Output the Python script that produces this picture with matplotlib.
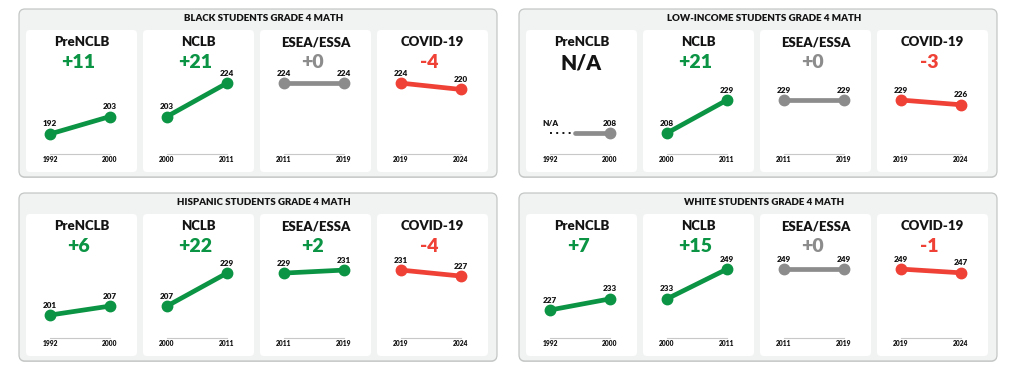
import matplotlib
matplotlib.use('Agg')
import matplotlib.pyplot as plt
from matplotlib.patches import FancyBboxPatch

plt.rcParams['font.family'] = ['Lato', 'DejaVu Sans']
plt.rcParams['font.weight'] = 'bold'

# data
group_titles = ['BLACK STUDENTS GRADE 4 MATH', 'LOW-INCOME STUDENTS GRADE 4 MATH',
                'HISPANIC STUDENTS GRADE 4 MATH', 'WHITE STUDENTS GRADE 4 MATH']
periods = ['PreNCLB', 'NCLB', 'ESEA/ESSA', 'COVID-19']
years = [1992, 2000, 2011, 2019, 2024]
black = [192, 203, 224, 224, 220]
low_income = [None, 208, 229, 229, 226]
hispanic = [201, 207, 229, 231, 227]
white = [227, 233, 249, 249, 247]
scores = [black, low_income, hispanic, white]

# printed gains (from unrounded scores, so they can differ from the rounded ones)
black_change = [11, 21, 0, -4]
low_income_change = [None, 21, 0, -3]
hispanic_change = [6, 22, 2, -4]
white_change = [7, 15, 0, -1]
changes = [black_change, low_income_change, hispanic_change, white_change]

# per group vertical range of the small charts
ylims = [(168.1, 257.4), (183.2, 273.6), (173.7, 268.4), (202.3, 278.6)]

green = '#0b9444'
red = '#ef4136'
gray = '#8c8c8c'
ink = '#141414'

W, H = 1024, 370
fig = plt.figure(figsize=(W / 100, H / 100), dpi=100)
fig.patch.set_facecolor('white')

bg = fig.add_axes([0, 0, 1, 1])
bg.set_xlim(0, W)
bg.set_ylim(H, 0)
bg.axis('off')

group_x = [19, 519, 19, 519]
group_y = [9, 9, 193, 193]
group_w, group_h = 478, 168
card_w, card_h = 111, 142
card_step = 117

lab_kw = dict(textcoords='offset points', ha='center', va='center',
              fontsize=5.9, fontweight='heavy', color=ink)

for g in range(4):
    gx, gy = group_x[g], group_y[g]
    bg.add_patch(FancyBboxPatch((gx, gy + 1), group_w, group_h,
                                boxstyle='round,pad=0,rounding_size=6',
                                fc='#d6d8d8', ec='none'))
    bg.add_patch(FancyBboxPatch((gx, gy), group_w, group_h,
                                boxstyle='round,pad=0,rounding_size=6',
                                fc='#f1f2f2', ec='#c4c6c6', lw=0.9))
    bg.text(gx + group_w / 2 + 6, gy + 9.5, group_titles[g], ha='center', va='center',
            fontsize=7, fontweight='heavy', color=ink)

    vals = scores[g]
    for p in range(4):
        cx = gx + 7 + p * card_step
        cy = gy + 21
        bg.add_patch(FancyBboxPatch((cx, cy), card_w, card_h,
                                    boxstyle='round,pad=0,rounding_size=4',
                                    fc='white', ec='none'))
        ax = fig.add_axes([cx / W, 1 - (cy + card_h) / H, card_w / W, card_h / H])
        ax.patch.set_visible(False)
        ax.axis('off')
        ax.set_xlim(-0.4, 1.45)
        ax.set_ylim(*ylims[g])

        a, b = vals[p], vals[p + 1]
        ax.text(0.5, 0.915, periods[p], transform=ax.transAxes, ha='center', va='center',
                fontsize=9.5, fontweight='heavy', color=ink)

        xt = ax.get_xaxis_transform()
        ax.plot([0, 1], [0.13, 0.13], transform=xt, color='#c8c8c8', lw=0.8)
        ax.text(0, 0.085, str(years[p]), transform=xt, ha='center', va='center',
                fontsize=4.8, fontweight='heavy', color=ink)
        ax.text(1, 0.085, str(years[p + 1]), transform=xt, ha='center', va='center',
                fontsize=4.8, fontweight='heavy', color=ink)

        if a is None:
            ax.text(0.5, 0.77, 'N/A', transform=ax.transAxes, ha='center', va='center',
                    fontsize=15, fontweight='heavy', color=ink)
            ax.plot([0, 0.36], [b, b], color=ink, lw=1.4, ls=(0, (1, 2.2)))
            ax.plot([0.42, 1], [b, b], color=gray, lw=3.4, solid_capstyle='round')
            ax.plot([1], [b], 'o', color=gray, ms=7.5)
            ax.annotate('N/A', (0, b), xytext=(0, 7.2), **lab_kw)
            ax.annotate(str(b), (1, b), xytext=(0, 7.2), **lab_kw)
            continue

        d = changes[g][p]
        col = green if d > 0 else (red if d < 0 else gray)
        label = '+{}'.format(d) if d >= 0 else '-{}'.format(-d)
        ax.text(0.47, 0.77, label, transform=ax.transAxes, ha='center', va='center',
                fontsize=14, fontweight='heavy', color=col)
        ax.plot([0, 1], [a, b], color=col, lw=3.4, marker='o', ms=7.5,
                solid_capstyle='butt')
        ax.annotate(str(a), (0, a), xytext=(0, 7.2), **lab_kw)
        ax.annotate(str(b), (1, b), xytext=(0, 7.2), **lab_kw)

fig.savefig('out.png', dpi=100)
